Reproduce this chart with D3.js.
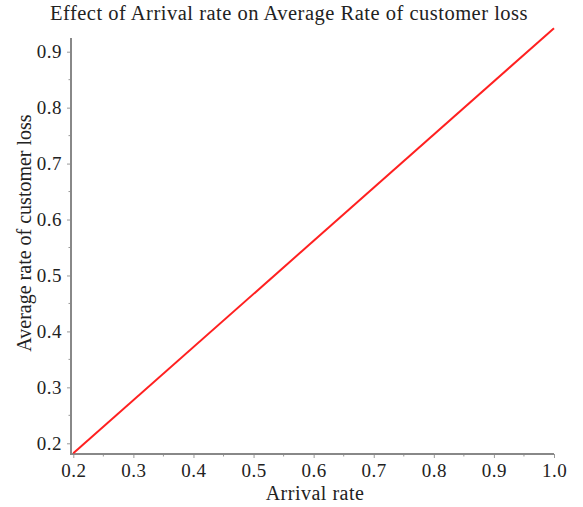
<!DOCTYPE html>
<html>
<head>
<meta charset="utf-8">
<script src="https://cdn.jsdelivr.net/npm/d3@7"></script>
<style>
  body { margin: 0; background: #fff; }
  text { font-family: "Liberation Serif", "Times New Roman", serif; fill: #222; }
</style>
</head>
<body>
<div id="chart"></div>
<script>
(function() {
  // arrival rate vs average rate of customer loss
  let arrivalRate = [0.2, 1.0]
  let customerLoss = [0.182, 0.942]
  let xTicks = [0.2, 0.3, 0.4, 0.5, 0.6, 0.7, 0.8, 0.9, 1.0]
  let yTicks = [0.2, 0.3, 0.4, 0.5, 0.6, 0.7, 0.8, 0.9]
  let xMinor = [0.25, 0.35, 0.45, 0.55, 0.65, 0.75, 0.85, 0.95]
  let yMinor = [0.25, 0.35, 0.45, 0.55, 0.65, 0.75, 0.85]

  let width = 583
  let height = 507

  let svg = d3.select('#chart')
    .append('svg')
    .attr('width', width)
    .attr('height', height)

  let xPositionScale = d3.scaleLinear().domain([0.2, 1.0]).range([73.3, 554])
  let yPositionScale = d3.scaleLinear().domain([0.2, 0.9]).range([443.3, 51.7])

  let axisLeftX = 71
  let axisBottomY = 454

  // minor ticks
  svg.append('g')
    .selectAll('line')
    .data(xMinor)
    .enter()
    .append('line')
    .attr('x1', d => xPositionScale(d))
    .attr('x2', d => xPositionScale(d))
    .attr('y1', axisBottomY)
    .attr('y2', axisBottomY + 2.5)
    .attr('stroke', '#999')
    .attr('stroke-width', 1)

  svg.append('g')
    .selectAll('line')
    .data(yMinor)
    .enter()
    .append('line')
    .attr('x1', axisLeftX)
    .attr('x2', axisLeftX - 2.5)
    .attr('y1', d => yPositionScale(d))
    .attr('y2', d => yPositionScale(d))
    .attr('stroke', '#999')
    .attr('stroke-width', 1)

  let xAxis = d3.axisBottom(xPositionScale)
    .tickValues(xTicks)
    .tickFormat(d3.format('.1f'))
    .tickSize(4)
    .tickSizeOuter(0)
  let xg = svg.append('g')
    .attr('class', 'axis x-axis')
    .attr('transform', 'translate(0,' + axisBottomY + ')')
    .call(xAxis)
  xg.select('.domain').remove()
  xg.selectAll('.tick line').attr('stroke', '#999')
  xg.selectAll('.tick text')
    .attr('dy', '0.71em')
    .attr('y', 10)
    .style('font-size', '19px')
    .style('letter-spacing', '0.5px')
    .style('font-family', '"Liberation Serif", serif')
    .attr('fill', '#222')

  let yAxis = d3.axisLeft(yPositionScale)
    .tickValues(yTicks)
    .tickFormat(d3.format('.1f'))
    .tickSize(4)
    .tickSizeOuter(0)
  let yg = svg.append('g')
    .attr('class', 'axis y-axis')
    .attr('transform', 'translate(' + axisLeftX + ',0)')
    .call(yAxis)
  yg.select('.domain').remove()
  yg.selectAll('.tick line').attr('stroke', '#999')
  yg.selectAll('.tick text')
    .attr('x', -9)
    .style('font-size', '19px')
    .style('letter-spacing', '0.5px')
    .style('font-family', '"Liberation Serif", serif')
    .attr('fill', '#222')

  // axis lines
  svg.append('line')
    .attr('x1', axisLeftX).attr('x2', axisLeftX)
    .attr('y1', 38).attr('y2', axisBottomY)
    .attr('stroke', '#888')
    .attr('stroke-width', 2)
  svg.append('line')
    .attr('x1', axisLeftX - 1).attr('x2', xPositionScale(1.0))
    .attr('y1', axisBottomY).attr('y2', axisBottomY)
    .attr('stroke', '#888')
    .attr('stroke-width', 2)

  let line = d3.line()
    .x(d => xPositionScale(d[0]))
    .y(d => yPositionScale(d[1]))

  svg.append('path')
    .datum(d3.zip(arrivalRate, customerLoss))
    .attr('d', line)
    .attr('fill', 'none')
    .attr('stroke', '#ff2020')
    .attr('stroke-width', 2)

  svg.append('text')
    .attr('x', 289)
    .attr('y', 20)
    .attr('text-anchor', 'middle')
    .style('font-size', '20.5px')
    .style('letter-spacing', '0.5px')
    .text('Effect of Arrival rate on Average Rate of customer loss')

  svg.append('text')
    .attr('x', 315)
    .attr('y', 500)
    .attr('text-anchor', 'middle')
    .style('font-size', '20px')
    .style('letter-spacing', '0.5px')
    .text('Arrival rate')

  svg.append('text')
    .attr('transform', 'translate(31,233) rotate(-90)')
    .attr('text-anchor', 'middle')
    .style('font-size', '20px')
    .text('Average rate of customer loss')
})()
</script>
</body>
</html>
